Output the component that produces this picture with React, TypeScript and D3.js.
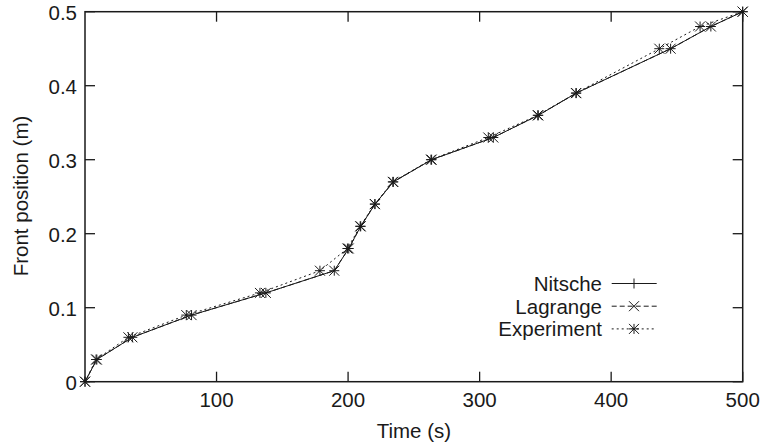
import React from "react";
import * as d3 from "d3";

const positions = [0, 0.03, 0.06, 0.09, 0.12, 0.15, 0.18, 0.21, 0.24, 0.27, 0.3, 0.33, 0.36, 0.39, 0.45, 0.48, 0.5];
const nitscheTimes = [0, 9, 36, 81, 137.5, 189.5, 200.5, 209.6, 220.5, 234.4, 263.5, 310.4, 344.6, 373.5, 445.2, 475.8, 500];
const lagrangeTimes = [0, 9, 36, 81, 137.5, 189.5, 200.5, 209.6, 220.5, 234.4, 263.5, 310.4, 344.6, 373.5, 445.2, 475.8, 500];
const experimentTimes = [0, 8.4, 33, 77, 133, 178.6, 199.5, 209.2, 220.3, 234, 263, 306.6, 344.2, 373.2, 436.6, 467.6, 500];

const xTicks = [100, 200, 300, 400, 500];
const yTicks = [0, 0.1, 0.2, 0.3, 0.4, 0.5];
const seriesNames = ["Nitsche", "Lagrange", "Experiment"];

const W = 764;
const H = 446;
const L = 85, R = 742.7, T = 11.7, B = 381.7;
const FONT = "'Liberation Sans', Arial, Helvetica, sans-serif";
const INK = "#1a1a1a";
const FS = 20.5;

function Marker({ type, x, y }: { type: string; x: number; y: number }) {
  const s = 5;
  const plus = `M${x - s},${y}L${x + s},${y}M${x},${y - s}L${x},${y + s}`;
  const cross = `M${x - s},${y - s}L${x + s},${y + s}M${x - s},${y + s}L${x + s},${y - s}`;
  let d = "";
  if (type === "plus") d = plus;
  else if (type === "cross") d = cross;
  else d = plus + cross;
  return <path d={d} stroke={INK} strokeWidth={1} fill="none" />;
}

export default function App() {
  const x = d3.scaleLinear().domain([0, 500]).range([L, R]);
  const y = d3.scaleLinear().domain([0, 0.5]).range([B, T]);
  const line = d3
    .line<[number, number]>()
    .x((d) => x(d[0]))
    .y((d) => y(d[1]));

  const series = [
    { name: seriesNames[0], times: nitscheTimes, dash: undefined as string | undefined, marker: "plus" },
    { name: seriesNames[1], times: lagrangeTimes, dash: "5,3", marker: "cross" },
    { name: seriesNames[2], times: experimentTimes, dash: "2,3", marker: "star" },
  ];

  const legendX = 602;
  const legendY0 = 283.5;
  const legendDy = 22.7;

  return (
    <svg width={W} height={H} style={{ position: "absolute", left: 0, top: 0 }} fontFamily={FONT}>
      <rect x={0} y={0} width={W} height={H} fill="#fff" />
      {/* ticks */}
      {xTicks.map((t) => (
        <g key={"xt" + t}>
          <line x1={x(t)} x2={x(t)} y1={B} y2={B - 10} stroke={INK} strokeWidth={1.3} />
          <line x1={x(t)} x2={x(t)} y1={T} y2={T + 10} stroke={INK} strokeWidth={1.3} />
          <text x={x(t)} y={407} textAnchor="middle" fontSize={FS} fill={INK}>
            {t}
          </text>
        </g>
      ))}
      {yTicks.map((t) => (
        <g key={"yt" + t}>
          <line x1={L} x2={L + 10} y1={y(t)} y2={y(t)} stroke={INK} strokeWidth={1.3} />
          <line x1={R} x2={R - 10} y1={y(t)} y2={y(t)} stroke={INK} strokeWidth={1.3} />
          <text x={77} y={y(t) + 8} textAnchor="end" fontSize={FS} fill={INK}>
            {t === 0 ? "0" : t.toFixed(1)}
          </text>
        </g>
      ))}
      <rect x={L} y={T} width={R - L} height={B - T} fill="none" stroke={INK} strokeWidth={1.5} />
      {/* series */}
      {series.map((s) => {
        const pts: [number, number][] = s.times.map((t, i) => [t, positions[i]]);
        return (
          <g key={s.name}>
            <path d={line(pts) || ""} fill="none" stroke={INK} strokeWidth={1} strokeDasharray={s.dash} />
            {pts.map((p, i) => (
              <Marker key={i} type={s.marker} x={x(p[0])} y={y(p[1])} />
            ))}
          </g>
        );
      })}
      {/* legend */}
      {series.map((s, i) => {
        const ly = legendY0 + i * legendDy;
        return (
          <g key={"lg" + s.name}>
            <text x={legendX} y={ly + 7.5} textAnchor="end" fontSize={FS} fill={INK}>
              {s.name}
            </text>
            <line x1={611.7} x2={656.7} y1={ly} y2={ly} stroke={INK} strokeWidth={1} strokeDasharray={s.dash} />
            <Marker type={s.marker} x={634} y={ly} />
          </g>
        );
      })}
      {/* axis labels */}
      <text x={(L + R) / 2} y={438} textAnchor="middle" fontSize={FS} fill={INK}>
        Time (s)
      </text>
      <text
        transform={`translate(28,196) rotate(-90)`}
        textAnchor="middle"
        fontSize={FS}
        fill={INK}
      >
        Front position (m)
      </text>
    </svg>
  );
}
